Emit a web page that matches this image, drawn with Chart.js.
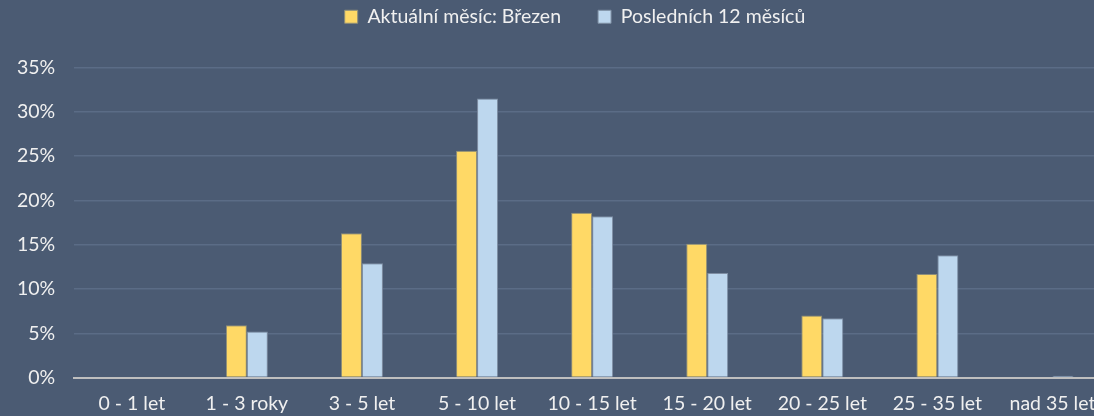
<!DOCTYPE html>
<html lang="cs">
<head>
    <meta charset="UTF-8">
    <title>Stáří vozidel</title>
    <script src="https://cdn.jsdelivr.net/npm/chart.js"></script>
    <style>
        html, body { margin: 0; padding: 0; background: #4B5B73; overflow: hidden; }
        #wrap { width: 1110px; height: 416px; position: relative; }
    </style>
</head>
<body>
    <div id="wrap"><canvas id="myChart"></canvas></div>
    <script>
        var categories = ['0 - 1 let', '1 - 3 roky', '3 - 5 let', '5 - 10 let', '10 - 15 let', '15 - 20 let', '20 - 25 let', '25 - 35 let', 'nad 35 let'];
        var currentMonth = [0, 5.9, 16.3, 25.6, 18.6, 15.1, 7.0, 11.7, 0];
        var last12Months = [0, 5.2, 12.9, 31.5, 18.2, 11.8, 6.7, 13.8, 0.2];
        var seriesNames = ['Aktuální měsíc: Březen', 'Posledních 12 měsíců'];

        var textColor = '#F0F0F0';
        Chart.defaults.font.family = 'Lato, "Noto Sans", sans-serif';
        Chart.defaults.font.size = 19.5;
        Chart.defaults.color = textColor;

        // extra gap below the legend, and nudge it right a bit
        var legendGap = {
            id: 'legendGap',
            beforeInit: function (chart) {
                var origFit = chart.legend.fit;
                chart.legend.fit = function () {
                    origFit.call(this);
                    this.height += 31;
                };
            },
            afterLayout: function (chart) {
                chart.legend.left += 21;
                chart.legend.right += 21;
            }
        };

        var ctx01 = document.getElementById('myChart');
        var chart01 = new Chart(ctx01, {
            type: 'bar',
            data: {
                labels: categories,
                datasets: [{
                    label: seriesNames[0],
                    data: currentMonth,
                    backgroundColor: '#FFD966',
                    borderColor: '#8E8E7A',
                    borderWidth: 1,
                    categoryPercentage: 0.365,
                    barPercentage: 1
                }, {
                    label: seriesNames[1],
                    data: last12Months,
                    backgroundColor: '#BDD7EE',
                    borderColor: '#7F8EA3',
                    borderWidth: 1,
                    categoryPercentage: 0.365,
                    barPercentage: 1
                }]
            },
            options: {
                responsive: true,
                maintainAspectRatio: false,
                animation: false,
                layout: { padding: { top: -30, right: 0, left: -2, bottom: -13 } },
                plugins: {
                    legend: {
                        position: 'top',
                        labels: {
                            boxWidth: 13,
                            boxHeight: 13,
                            padding: 37,
                            color: textColor
                        }
                    },
                    tooltip: { enabled: false }
                },
                scales: {
                    x: {
                        grid: { display: false, drawTicks: false },
                        border: { display: true, color: '#BFBFBF', width: 2 },
                        ticks: { padding: 14, color: textColor, maxRotation: 0 }
                    },
                    y: {
                        min: 0,
                        max: 35,
                        ticks: {
                            stepSize: 5,
                            padding: 19,
                            color: textColor,
                            callback: function (v) { return v + '%'; }
                        },
                        grid: { color: '#5B6C86', lineWidth: 1.5, drawTicks: false },
                        border: { display: false }
                    }
                }
            },
            plugins: [legendGap]
        });
    </script>
</body>
</html>
